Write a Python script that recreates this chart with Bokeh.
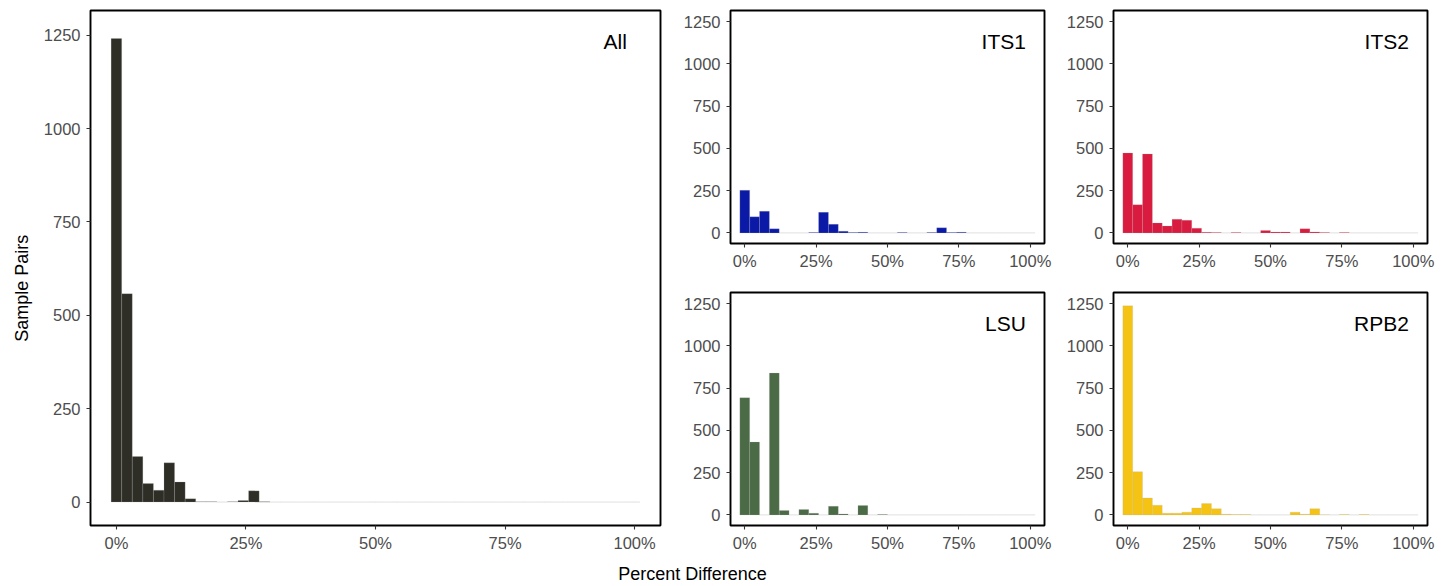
import numpy as np
from bokeh.plotting import figure
from bokeh.layouts import row, column
from bokeh.models import Label, FixedTicker, Range1d
from bokeh.embed import file_html
from bokeh.resources import INLINE

# ---------------- data ----------------
x_ticks = [0, 0.25, 0.5, 0.75, 1.0]
x_tick_labels = ["0%", "25%", "50%", "75%", "100%"]
y_ticks = [0, 250, 500, 750, 1000, 1250]
y_tick_labels = ["0", "250", "500", "750", "1000", "1250"]

all_bins = 50  # bins centred on 0 .. 1
all_counts = [1241, 558, 122, 50, 32, 105, 54, 9, 1, 1,
              0, 1, 4, 30, 1, 0, 0, 0, 0, 0,
              0, 0, 0, 0, 0, 0, 0, 0, 0, 0,
              0, 0, 0, 0, 0, 0, 0, 0, 0, 0,
              0, 0, 0, 0, 0, 0, 0, 0, 0, 0]

gene_bins = 30  # bins centred on 0 .. 1
its1_counts = [252, 95, 128, 24, 0, 0, 0, 3, 122, 51,
               10, 2, 4, 0, 0, 0, 2, 0, 0, 2,
               30, 2, 4, 0, 0, 0, 0, 0, 0, 0]
its2_counts = [473, 167, 467, 59, 41, 81, 75, 28, 4, 3,
               0, 2, 0, 0, 14, 5, 5, 0, 24, 6,
               3, 0, 3, 0, 0, 0, 0, 0, 0, 0]
lsu_counts = [693, 431, 0, 839, 26, 0, 32, 10, 0, 51,
              6, 0, 55, 0, 2, 0, 0, 0, 0, 0,
              0, 0, 0, 0, 0, 0, 0, 0, 0, 0]
rpb2_counts = [1237, 256, 100, 57, 10, 10, 16, 41, 67, 37,
               4, 2, 2, 0, 0, 0, 0, 16, 4, 37,
               1, 0, 3, 0, 2, 0, 0, 0, 0, 0]

panel_names = ["All", "ITS1", "ITS2", "LSU", "RPB2"]
panel_colors = ["#2e2e27", "#0a1aa6", "#d81b3f", "#4b6a46", "#f5c313"]

x_title = "Percent Difference"
y_title = "Sample Pairs"

# ---------------- style ----------------
FONT = "Liberation Sans"
TICK_SIZE = "16.5px"
TITLE_SIZE = "18px"
X_RANGE = (-0.05, 1.05)
Y_RANGE = (-62.7, 1316)


def blank(width, height):
    f = figure(width=width, height=height, output_backend="svg",
               toolbar_location=None, tools="",
               x_range=Range1d(0, width), y_range=Range1d(0, height),
               min_border_left=0, min_border_right=0, min_border_top=0,
               min_border_bottom=0)
    f.axis.visible = False
    f.grid.visible = False
    f.outline_line_color = None
    return f


def make_panel(counts, nbins, color, name, width, height, mb_left, mb_right,
               mb_top, mb_bottom):
    p = figure(width=width, height=height, output_backend="svg",
               toolbar_location=None, tools="",
               x_range=Range1d(*X_RANGE), y_range=Range1d(*Y_RANGE),
               min_border_left=mb_left, min_border_right=mb_right,
               min_border_top=mb_top, min_border_bottom=mb_bottom)
    bw = 1.0 / (nbins - 1)
    centers = np.arange(nbins) * bw
    p.quad(left=centers - bw / 2, right=centers + bw / 2,
           top=np.array(counts, dtype=float), bottom=0,
           fill_color=color, line_color="#b0b0b0", line_alpha=0.35,
           line_width=0.6)
    p.grid.visible = False
    p.outline_line_color = "black"
    p.outline_line_width = 1.9
    p.background_fill_color = "white"
    p.border_fill_color = "white"
    for ax in (p.xaxis[0], p.yaxis[0]):
        ax.axis_line_color = None
        ax.major_tick_line_color = "#333333"
        ax.major_tick_line_width = 1.1
        ax.major_tick_in = 0
        ax.major_tick_out = 4
        ax.minor_tick_line_color = None
        ax.major_label_text_font = FONT
        ax.major_label_text_font_size = TICK_SIZE
        ax.major_label_text_color = "#4d4d4d"
    p.xaxis.ticker = FixedTicker(ticks=x_ticks)
    p.xaxis.major_label_overrides = {t: l for t, l in zip(x_ticks, x_tick_labels)}
    p.yaxis.ticker = FixedTicker(ticks=y_ticks)
    p.yaxis.major_label_overrides = {t: l for t, l in zip(y_ticks, y_tick_labels)}
    p.xaxis.major_label_standoff = 4
    p.yaxis.major_label_standoff = 6
    # panel label, ~30.5 px below the top of the frame
    frame_h = height - mb_top - mb_bottom
    units_per_px = (Y_RANGE[1] - Y_RANGE[0]) / frame_h
    p.add_layout(Label(x=0.985, y=Y_RANGE[1] - 30.5 * units_per_px, text=name,
                       text_align="right", text_baseline="alphabetic",
                       text_font=FONT, text_font_size="21px",
                       text_color="black"))
    return p


# left strip carrying the shared y title
p_ylab = blank(36, 560)
p_ylab.add_layout(Label(x=21, y=258, text=y_title, angle=np.pi / 2,
                        text_align="center", text_baseline="middle",
                        text_font=FONT, text_font_size=TITLE_SIZE,
                        text_color="black"))

p_all = make_panel(all_counts, all_bins, panel_colors[0], panel_names[0],
                   644, 560, 54, 20, 10, 35)
p_its1 = make_panel(its1_counts, gene_bins, panel_colors[1], panel_names[1],
                    383, 278, 50, 19, 10, 35)
p_its2 = make_panel(its2_counts, gene_bins, panel_colors[2], panel_names[2],
                    387, 278, 50, 23, 10, 35)
p_lsu = make_panel(lsu_counts, gene_bins, panel_colors[3], panel_names[3],
                   383, 282, 50, 19, 14, 35)
p_rpb2 = make_panel(rpb2_counts, gene_bins, panel_colors[4], panel_names[4],
                    387, 282, 50, 23, 14, 35)

# bottom strip carrying the shared x title
p_bot = blank(1450, 26)
p_bot.add_layout(Label(x=692, y=13, text=x_title, text_align="center",
                       text_baseline="middle", text_font=FONT,
                       text_font_size=TITLE_SIZE, text_color="black"))

layout = column(
    row(p_ylab, p_all, column(row(p_its1, p_its2), row(p_lsu, p_rpb2))),
    p_bot,
)

open("out.html", "w").write(file_html(layout, INLINE))
